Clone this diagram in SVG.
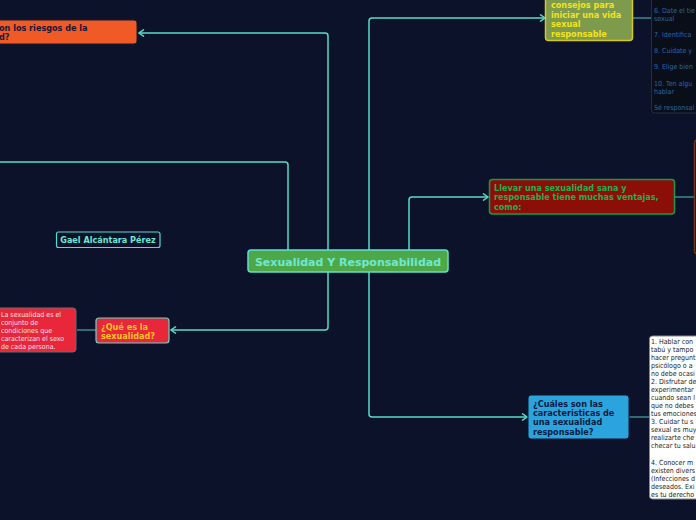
<svg xmlns="http://www.w3.org/2000/svg" width="696" height="520" viewBox="0 0 696 520">
<defs>
<style>
.bg{fill:#0b122a}
.c{fill:none;stroke:#58dcc8;stroke-width:1.5}
.t{font-family:"DejaVu Sans Condensed","DejaVu Sans",sans-serif;font-weight:bold;font-size:9px}
.s{font-family:"DejaVu Sans Condensed","DejaVu Sans",sans-serif;font-size:7px}
</style>
<marker id="ah" markerWidth="8" markerHeight="8" refX="6" refY="4" orient="auto" markerUnits="userSpaceOnUse">
<path d="M1,0.5 L6,4 L1,7.5" fill="none" stroke="#58dcc8" stroke-width="1.5"/>
</marker>
</defs>
<rect class="bg" x="0" y="0" width="696" height="520"/>
<g id="connectors">
<path class="c" d="M288,250 V165 Q288,162 285,162 H0"/>
<path class="c" d="M328,250 V36 Q328,33 325,33 H139" marker-end="url(#ah)"/>
<path class="c" d="M369,250 V21 Q369,18 372,18 H545" marker-end="url(#ah)"/>
<path class="c" d="M409,250 V200 Q409,197 412,197 H488" marker-end="url(#ah)"/>
<path class="c" d="M328,272 V327 Q328,330 325,330 H171" marker-end="url(#ah)"/>
<path class="c" d="M369,272 V414 Q369,417 372,417 H527" marker-end="url(#ah)"/>
<path d="M633,18 H652" stroke="#3a8a90" stroke-width="1.5" fill="none"/>
<path d="M675,197 H694" stroke="#3a8a90" stroke-width="1.5" fill="none"/>
<path d="M96,330 H77" stroke="#3a8a90" stroke-width="1.5" fill="none"/>
<path d="M629,417 H649" stroke="#3a8a90" stroke-width="1.5" fill="none"/>
</g>
<g id="central">
<rect x="248" y="250" width="200" height="22" rx="3" fill="#4ea848" stroke="#5ee0cc" stroke-width="1.5"/>
<text x="348" y="265.5" text-anchor="middle" style="font-family:'DejaVu Sans',sans-serif;font-weight:bold;font-size:11px" fill="#6ee8d4">Sexualidad Y Responsabilidad</text>
</g>
<g id="riesgos">
<rect x="-10" y="20" width="147" height="24" rx="3" fill="#f05a26" stroke="#1a1a2a" stroke-width="1"/>
<text class="t" fill="#16173a"><tspan x="-1" y="31">on los riesgos de la</tspan><tspan x="-1" y="40">d?</tspan></text>
</g>
<g id="consejos">
<rect x="545.5" y="-10" width="87" height="50.5" rx="3" fill="#7e9a4c" stroke="#d6c81e" stroke-width="1.5"/>
<text class="t" fill="#f2e41a"><tspan x="551" y="8">consejos para</tspan><tspan x="551" y="17.5">iniciar una vida</tspan><tspan x="551" y="27">sexual</tspan><tspan x="551" y="36.5">responsable</tspan></text>
</g>
<g id="consejos-lista">
<rect x="651.5" y="-10" width="60" height="123" rx="3" fill="#0a0e19" stroke="#1f2f45" stroke-width="1"/>
<text class="s" fill="#2a66a0"><tspan x="654" y="13">6. Date el tie</tspan><tspan x="654" y="21">sexual</tspan><tspan x="654" y="37">7. Identifica</tspan><tspan x="654" y="53">8. Cuídate y</tspan><tspan x="654" y="69">9. Elige bien</tspan><tspan x="654" y="86">10. Ten algu</tspan><tspan x="654" y="94">hablar</tspan><tspan x="654" y="110">Sé responsal</tspan></text>
</g>
<g id="ventajas">
<rect x="489.5" y="179.5" width="185" height="34.5" rx="3" fill="#8c0e08" stroke="#1a9850" stroke-width="1.5"/>
<text class="t" fill="#22b04e"><tspan x="494" y="191">Llevar una sexualidad sana y</tspan><tspan x="494" y="200">responsable tiene muchas ventajas,</tspan><tspan x="494" y="209.5">como:</tspan></text>
</g>
<g id="ventajas-lista">
<rect x="694.5" y="140" width="20" height="114" rx="3" fill="#0b122a" stroke="#6a3a1e" stroke-width="1.5"/>
</g>
<g id="autor">
<rect x="56.5" y="232" width="103.5" height="15.5" rx="2" fill="#0b122a" stroke="#5ed8c8" stroke-width="1.2"/>
<text x="108" y="243" text-anchor="middle" class="t" fill="#6ee8d4">Gael Alcántara Pérez</text>
</g>
<g id="que-es">
<rect x="96" y="318" width="73" height="25" rx="3" fill="#e8283a" stroke="#5ed8c8" stroke-width="1.2"/>
<text class="t" fill="#f7c31a"><tspan x="101" y="329.5">¿Qué es la</tspan><tspan x="101" y="339">sexualidad?</tspan></text>
</g>
<g id="definicion">
<rect x="-10" y="308" width="86" height="44" rx="3" fill="#e8283a" stroke="#6a6a72" stroke-width="1"/>
<text class="s" fill="#f2e0e0"><tspan x="1" y="316.5">La sexualidad es el</tspan><tspan x="1" y="324.5">conjunto de</tspan><tspan x="1" y="332.5">condiciones que</tspan><tspan x="1" y="341">caracterizan el sexo</tspan><tspan x="1" y="349">de cada persona.</tspan></text>
</g>
<g id="caracteristicas">
<rect x="528" y="395" width="101" height="44" rx="3" fill="#2ba4de" stroke="#0a1830" stroke-width="1"/>
<text class="t" fill="#0c1a3e"><tspan x="533" y="406.5">¿Cuáles son las</tspan><tspan x="533" y="415.5">caracteristicas de</tspan><tspan x="533" y="425">una sexualidad</tspan><tspan x="533" y="434.5">responsable?</tspan></text>
</g>
<g id="caracteristicas-lista">
<rect x="649.5" y="336" width="60" height="163" rx="3" fill="#ffffff" stroke="#888888" stroke-width="1"/>
<text class="s" fill="#222222"><tspan x="651" y="344">1. Hablar con</tspan><tspan x="651" y="352">tabú y tampo</tspan><tspan x="651" y="360">hacer pregunt</tspan><tspan x="651" y="368">psicólogo o a</tspan><tspan x="651" y="376">no debe ocasi</tspan><tspan x="651" y="384">2. Disfrutar de</tspan><tspan x="651" y="392">experimentar</tspan><tspan x="651" y="400">cuando sean l</tspan><tspan x="651" y="408">que no debes</tspan><tspan x="651" y="416">tus emociones</tspan><tspan x="651" y="424">3. Cuidar tu s</tspan><tspan x="651" y="432">sexual es muy</tspan><tspan x="651" y="440">realizarte che</tspan><tspan x="651" y="448">checar tu salu</tspan><tspan x="651" y="464.5">4. Conocer m</tspan><tspan x="651" y="472.5">existen divers</tspan><tspan x="651" y="480.5">(Infecciones d</tspan><tspan x="651" y="488.5">deseados. Exi</tspan><tspan x="651" y="496.5">es tu derecho</tspan></text>
</g>
</svg>
